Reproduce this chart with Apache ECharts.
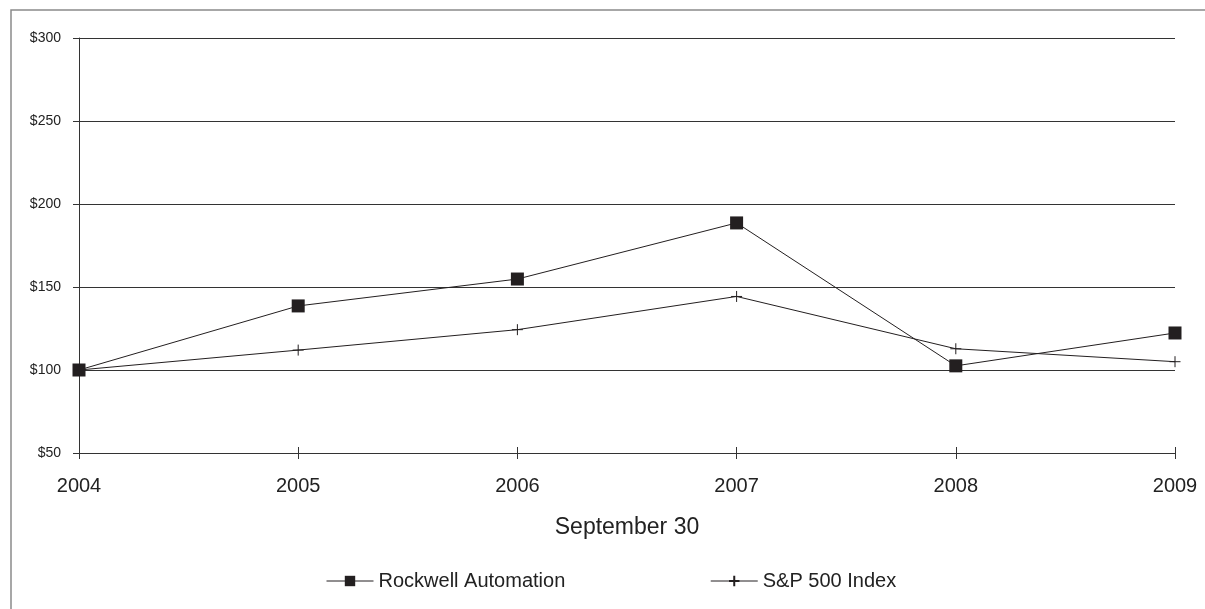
<!DOCTYPE html>
<html><head><meta charset="utf-8">
<script src="https://cdn.jsdelivr.net/npm/echarts@6/dist/echarts.min.js"></script>
<style>html,body{margin:0;padding:0;background:#fff}#c{width:1205px;height:609px}</style>
</head><body><div id="c"></div>
<script>
const years = ['2004','2005','2006','2007','2008','2009'];
const rockwell = [100, 138.6, 154.8, 188.6, 102.5, 122.3];
const sp500 = [100, 112.0, 124.3, 144.3, 112.8, 105.0];
const yTicks = [50, 100, 150, 200, 250, 300];

const chart = echarts.init(document.getElementById('c'));
const ink = '#231f20';
chart.setOption({
  animation: false,
  backgroundColor: '#fff',
  textStyle: { fontFamily: 'Liberation Sans, Arial, sans-serif' },
  graphic: [{
    type: 'polyline', silent: true,
    shape: { points: [[11, 609], [11, 10], [1205, 10]] },
    style: { stroke: '#8a8a8a', lineWidth: 1.5, fill: null }
  }],
  grid: { left: 79, right: 30, top: 38, bottom: 156, containLabel: false },
  xAxis: [{
    type: 'category', data: years, boundaryGap: false,
    name: 'September 30', nameLocation: 'middle', nameGap: 63,
    nameTextStyle: { fontSize: 23, color: '#222' },
    axisLine: { show: true, lineStyle: { color: '#333', width: 1 } },
    axisTick: { show: true, length: 6, lineStyle: { color: '#333' } },
    axisLabel: { fontSize: 20, color: '#222', margin: 23 },
    splitLine: { show: false }
  }, {
    type: 'category', data: years, boundaryGap: false, position: 'bottom',
    axisLine: { show: false },
    axisTick: { show: true, inside: true, length: 6, lineStyle: { color: '#333' } },
    axisLabel: { show: false }
  }],
  yAxis: {
    type: 'value', min: 50, max: 300, interval: 50,
    axisLine: { show: true, lineStyle: { color: '#333', width: 1 } },
    axisTick: { show: true, length: 6, lineStyle: { color: '#333' } },
    axisLabel: { fontSize: 14, color: '#222', margin: 18,
      formatter: v => yTicks.includes(v) ? '$' + v : '' },
    splitLine: { show: true, lineStyle: { color: '#333', width: 1 } }
  },
  legend: {
    top: 571, left: 326, padding: 0, itemWidth: 47, itemHeight: 13, itemGap: 145,
    textStyle: { fontSize: 20, color: '#222' },
    lineStyle: { width: 1 },
    data: ['Rockwell Automation', 'S&P 500 Index']
  },
  series: [{
    name: 'Rockwell Automation', type: 'line', data: rockwell,
    symbol: 'rect', symbolSize: 13,
    lineStyle: { color: ink, width: 1 },
    itemStyle: { color: ink, borderWidth: 0 }
  }, {
    name: 'S&P 500 Index', type: 'line', data: sp500,
    symbol: 'path://M0,5H10M5,0V10', symbolSize: 11,
    lineStyle: { color: ink, width: 1 },
    itemStyle: { color: 'rgba(0,0,0,0)', borderColor: ink, borderWidth: 1 }
  }]
});
</script></body></html>
